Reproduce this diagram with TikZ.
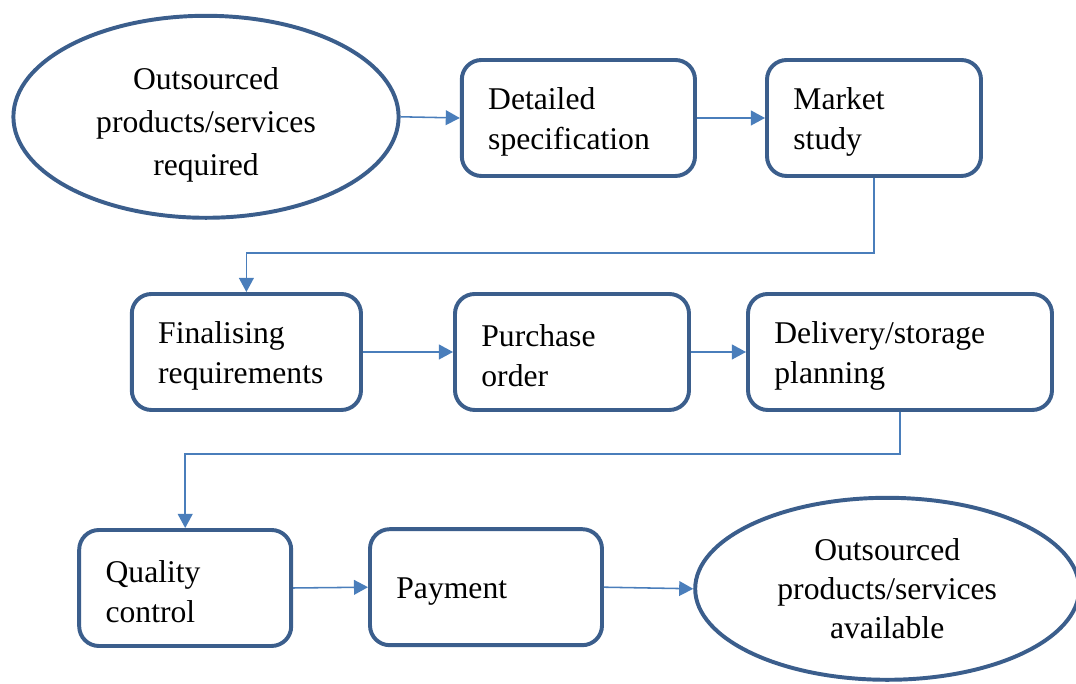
\documentclass[tikz,border=0pt]{standalone}
\usepackage{fontspec}
\setmainfont{Liberation Serif}
\usepackage{tikz}
\usetikzlibrary{shapes.geometric, arrows.meta, positioning, calc}
\definecolor{boxblue}{HTML}{3B5E8C}
\definecolor{flowblue}{HTML}{4A7EBB}

\begin{document}
\begin{tikzpicture}[
    stage/.style={draw=boxblue, line width=2.8pt, rounded corners=14pt, fill=white, inner xsep=0.66cm, inner ysep=0pt, minimum height=2.9cm, text width=#1, align=left, font=\fontsize{22.5}{28.5}\selectfont, execute at begin node={\rule{0pt}{21pt}}},
    endpoint/.style={ellipse, draw=boxblue, line width=2.8pt, fill=white, inner sep=0pt, align=center, font=\fontsize{22.5}{29}\selectfont},
    flow/.style={draw=flowblue, line width=1.1pt, -{Triangle[length=10pt, width=10.5pt]}}
  ]
  \useasboundingbox (0,0) rectangle (26.9,17.1);
  % first row
  \node[endpoint, minimum width=9.63cm, minimum height=5.05cm, font=\fontsize{22.5}{30.5}\selectfont] (required) at (5.15,14.18) {\rule{0pt}{27pt}Outsourced\\products/services\\required};
  \node[stage=4.51cm] (spec) at (14.46,14.15) {Detailed\\specification};
  \node[stage=4.03cm] (market) at (21.85,14.15) {Market\\study};
  % second row
  \node[stage=4.41cm] (final) at (6.16,8.3) {Finalising\\requirements};
  \node[stage=4.53cm] (order) at (14.3,8.3) {Purchase\\order};
  \node[stage=6.28cm] (deliv) at (22.5,8.3) {Delivery/storage\\planning};
  % third row
  \node[stage=3.98cm] (quality) at (4.63,2.4) {Quality\\control};
  \node[stage=4.48cm] (payment) at (12.15,2.42) {Payment};
  \node[endpoint, minimum width=9.6cm, minimum height=4.55cm, font=\fontsize{22.5}{27.5}\selectfont] (available) at (22.18,2.38) {Outsourced\\products/services\\available};

  \draw[flow] (required.east) -- (spec.west);
  \draw[flow] (spec.east) -- (market.west);
  \draw[flow] (market.south) -- ++(0,-1.87) -| (final.north);
  \draw[flow] (final.east) -- (order.west);
  \draw[flow] (order.east) -- (deliv.west);
  \draw[flow] (deliv.south) -- ++(0,-1.05) -| (quality.north);
  \draw[flow] (quality.east) -- (payment.west);
  \draw[flow] (payment.east) -- (available.west);
\end{tikzpicture}
\end{document}
